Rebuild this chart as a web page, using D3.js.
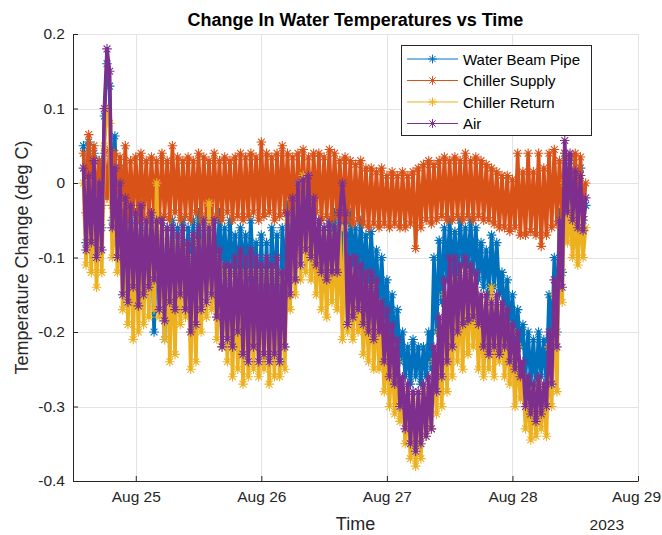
<!DOCTYPE html>
<html>
<head>
<meta charset="utf-8">
<script src="https://cdn.jsdelivr.net/npm/d3@7"></script>
<style>
    body { margin: 0; background: #fff; }
    svg text { font-family: "Liberation Sans", Arial, Helvetica, sans-serif; fill: #262626; }
</style>
</head>
<body>
<div id="chart"></div>
<script>
// sampled every 30 min starting Aug 24 2023 14:00
var startTime = new Date(2023, 7, 24, 14, 0);
var stepMinutes = 30;

var seriesNames = ['Water Beam Pipe', 'Chiller Supply', 'Chiller Return', 'Air'];

var waterBeamPipe = [
    0.05, -0.08, 0.055, -0.07, 0.04, -0.08, 0.03, -0.06, 0.09, 0.16,
    0.13, -0.05, 0.063, -0.08, 0.02, -0.10, -0.04, -0.12, -0.05, -0.11,
    -0.04, -0.12, -0.05, -0.11, -0.06, -0.12, -0.05, -0.20, -0.04, -0.13,
    -0.05, -0.21, -0.06, -0.14, -0.05, -0.15, -0.06, -0.13, -0.05, -0.15,
    -0.06, -0.14, -0.05, -0.15, -0.04, -0.13, -0.05, -0.12, -0.04, -0.12,
    -0.05, -0.13, -0.04, -0.12, -0.06, -0.13, -0.05, -0.12, -0.07, -0.13,
    -0.06, -0.12, -0.07, -0.13, -0.05, -0.14, -0.08, -0.18, -0.07, -0.20,
    -0.08, -0.19, -0.06, -0.15, -0.07, -0.24, -0.06, -0.14, -0.03, -0.10,
    -0.02, -0.10, -0.01, -0.09, 0.00, -0.08, -0.02, -0.10, -0.04, -0.11,
    -0.05, -0.11, -0.06, -0.12, -0.05, -0.11, -0.04, -0.12, -0.05, -0.10,
    -0.05, -0.12, -0.04, -0.11, -0.06, -0.12, -0.05, -0.13, -0.07, -0.14,
    -0.065, -0.15, -0.09, -0.17, -0.10, -0.18, -0.13, -0.20, -0.15, -0.22,
    -0.17, -0.24, -0.20, -0.26, -0.22, -0.27, -0.21, -0.26, -0.22, -0.27,
    -0.22, -0.26, -0.20, -0.25, -0.10, -0.20, -0.077, -0.16, -0.06, -0.13,
    -0.05, -0.12, -0.065, -0.13, -0.05, -0.11, -0.06, -0.12, -0.05, -0.12,
    -0.06, -0.13, -0.08, -0.14, -0.09, -0.15, -0.07, -0.14, -0.08, -0.15,
    -0.12, -0.18, -0.13, -0.20, -0.15, -0.21, -0.17, -0.22, -0.19, -0.26,
    -0.20, -0.27, -0.21, -0.28, -0.20, -0.26, -0.21, -0.27, -0.15, -0.22,
    -0.10, -0.20, -0.04, -0.12, 0.04, -0.05, 0.03, -0.04, 0.01, -0.05,
    0.02, -0.05, -0.03
];

var chillerSupply = [
    0.04, -0.04, 0.065, -0.03, 0.05, -0.04, 0.03, -0.03, 0.04, -0.02,
    0.045, -0.03, 0.04, -0.04, 0.035, -0.045, 0.05, -0.05, 0.03, -0.04,
    0.035, -0.05, 0.04, -0.045, 0.03, -0.05, 0.035, -0.04, 0.03, -0.05,
    0.04, -0.045, 0.03, -0.05, 0.05, -0.04, 0.035, -0.05, 0.03, -0.045,
    0.035, -0.05, 0.03, -0.04, 0.04, -0.05, 0.035, -0.045, 0.03, -0.05,
    0.04, -0.045, 0.03, -0.05, 0.035, -0.04, 0.03, -0.05, 0.035, -0.045,
    0.04, -0.05, 0.035, -0.045, 0.04, -0.04, 0.035, -0.05, 0.055, -0.045,
    0.04, -0.04, 0.035, -0.05, 0.04, -0.045, 0.05, -0.04, 0.04, -0.045,
    0.035, -0.05, 0.04, -0.04, 0.045, -0.045, 0.035, -0.05, 0.04, -0.04,
    0.04, -0.05, 0.035, -0.045, 0.045, -0.05, 0.04, -0.045, 0.03, -0.05,
    0.035, -0.05, 0.03, -0.055, 0.025, -0.05, 0.03, -0.055, 0.02, -0.06,
    0.02, -0.055, 0.015, -0.06, 0.02, -0.055, 0.01, -0.06, 0.015, -0.055,
    0.01, -0.06, 0.015, -0.06, 0.01, -0.055, 0.015, -0.088, 0.02, -0.06,
    0.025, -0.05, 0.03, -0.055, 0.025, -0.05, 0.03, -0.045, 0.035, -0.05,
    0.03, -0.05, 0.035, -0.045, 0.03, -0.05, 0.04, -0.045, 0.03, -0.05,
    0.035, -0.045, 0.03, -0.05, 0.025, -0.05, 0.02, -0.055, 0.015, -0.06,
    0.01, -0.06, 0.01, -0.065, 0.005, -0.06, 0.04, -0.07, 0.015, -0.07,
    0.04, -0.065, 0.015, -0.07, 0.04, -0.085, 0.02, -0.07, 0.04, -0.06,
    0.045, -0.055, 0.03, -0.05, 0.04, -0.05, 0.035, -0.045, 0.04, -0.05,
    0.035, -0.045, 0.0
];

var chillerReturn = [
    0.00, -0.11, -0.01, -0.12, 0.00, -0.14, -0.02, -0.12, 0.05, 0.10,
    0.08, -0.10, -0.02, -0.12, -0.03, -0.17, -0.06, -0.19, -0.07, -0.21,
    -0.06, -0.20, -0.07, -0.19, -0.05, -0.18, -0.06, -0.17, 0.00, -0.18,
    -0.07, -0.21, -0.08, -0.24, -0.09, -0.23, -0.08, -0.19, -0.09, -0.18,
    -0.10, -0.25, -0.11, -0.24, -0.08, -0.20, -0.05, -0.18, -0.027, -0.17,
    -0.10, -0.21, -0.11, -0.22, -0.12, -0.24, -0.13, -0.26, -0.12, -0.25,
    -0.13, -0.27, -0.12, -0.26, -0.14, -0.25, -0.12, -0.26, -0.13, -0.25,
    -0.12, -0.27, -0.13, -0.26, -0.12, -0.26, -0.13, -0.25, -0.05, -0.17,
    -0.04, -0.15, 0.00, -0.13, 0.01, -0.12, -0.02, -0.13, -0.07, -0.15,
    -0.07, -0.17, -0.08, -0.18, -0.07, -0.16, -0.08, -0.17, -0.06, -0.21,
    -0.06, -0.20, -0.12, -0.21, -0.13, -0.20, -0.14, -0.23, -0.15, -0.24,
    -0.14, -0.25, -0.16, -0.25, -0.20, -0.28, -0.21, -0.30, -0.22, -0.31,
    -0.24, -0.32, -0.28, -0.35, -0.29, -0.37, -0.30, -0.38, -0.29, -0.37,
    -0.28, -0.34, -0.28, -0.33, -0.24, -0.31, -0.20, -0.30, -0.15, -0.28,
    -0.15, -0.26, -0.13, -0.24, -0.14, -0.25, -0.12, -0.23, -0.13, -0.22,
    -0.15, -0.25, -0.17, -0.26, -0.16, -0.25, -0.14, -0.26, -0.17, -0.24,
    -0.17, -0.26, -0.19, -0.27, -0.20, -0.30, -0.22, -0.29, -0.26, -0.33,
    -0.28, -0.345, -0.28, -0.34, -0.27, -0.33, -0.28, -0.34, -0.22, -0.30,
    -0.15, -0.28, -0.05, -0.16, 0.00, -0.08, -0.03, -0.10, -0.04, -0.11,
    -0.03, -0.10, -0.06
];

var air = [
    0.02, -0.09, 0.01, -0.08, 0.03, -0.10, 0.00, -0.09, 0.10, 0.18,
    0.15, -0.06, 0.02, -0.10, 0.00, -0.15, -0.02, -0.16, -0.03, -0.14,
    -0.04, -0.165, -0.03, -0.15, -0.05, -0.14, -0.04, -0.13, -0.05, -0.17,
    -0.05, -0.185, -0.06, -0.16, -0.06, -0.17, -0.07, -0.15, -0.06, -0.17,
    -0.08, -0.20, -0.07, -0.19, -0.06, -0.17, -0.05, -0.16, -0.06, -0.15,
    -0.05, -0.18, -0.09, -0.22, -0.11, -0.21, -0.11, -0.22, -0.10, -0.20,
    -0.09, -0.23, -0.10, -0.24, -0.09, -0.22, -0.10, -0.24, -0.11, -0.23,
    -0.10, -0.24, -0.11, -0.23, -0.10, -0.24, -0.12, -0.22, -0.04, -0.15,
    -0.02, -0.13, 0.00, -0.11, 0.005, -0.09, 0.01, -0.10, -0.02, -0.11,
    -0.05, -0.12, -0.06, -0.13, -0.055, -0.12, -0.06, -0.12, -0.04, 0.00,
    -0.04, -0.19, -0.10, -0.18, -0.10, -0.17, -0.11, -0.19, -0.12, -0.20,
    -0.12, -0.21, -0.13, -0.20, -0.16, -0.24, -0.17, -0.26, -0.19, -0.27,
    -0.21, -0.30, -0.26, -0.33, -0.27, -0.35, -0.28, -0.36, -0.28, -0.35,
    -0.27, -0.34, -0.26, -0.33, -0.22, -0.28, -0.18, -0.26, -0.13, -0.24,
    -0.10, -0.22, -0.10, -0.20, -0.11, -0.19, -0.10, -0.185, -0.11, -0.18,
    -0.12, -0.19, -0.15, -0.22, -0.15, -0.23, -0.16, -0.22, -0.15, -0.23,
    -0.16, -0.22, -0.17, -0.24, -0.19, -0.25, -0.20, -0.26, -0.24, -0.30,
    -0.26, -0.31, -0.27, -0.32, -0.26, -0.31, -0.27, -0.30, -0.20, -0.27,
    -0.13, -0.22, -0.05, -0.14, 0.057, -0.04, 0.04, -0.05, 0.016, -0.06,
    0.01, -0.064, -0.02
];

var yTicks = [-0.4, -0.3, -0.2, -0.1, 0, 0.1, 0.2];
var xTickDays = [25, 26, 27, 28, 29];

(function () {

    var colors = ['#0072BD', '#D95319', '#EDB120', '#7E2F8E'];
    var allSeries = [waterBeamPipe, chillerSupply, chillerReturn, air];

    var width = 662;
    var height = 535;
    var plot = {left: 73, right: 638, top: 34, bottom: 481};

    var svg = d3.select('#chart').append('svg')
        .attr('width', width)
        .attr('height', height);

    var x = d3.scaleTime()
        .domain([new Date(2023, 7, 24, 12, 0), new Date(2023, 7, 29, 0, 0)])
        .range([plot.left, plot.right]);

    var y = d3.scaleLinear()
        .domain([-0.4, 0.2])
        .range([plot.bottom, plot.top]);

    var xTicks = xTickDays.map(function (d) {
        return new Date(2023, 7, d);
    });

    /**
     * grid lines
     */
    var grid = svg.append('g').attr('class', 'grid')
        .attr('stroke', '#e3e3e3')
        .attr('stroke-width', 1)
        .attr('shape-rendering', 'crispEdges');

    grid.selectAll('.gx').data(xTicks).enter().append('line')
        .attr('x1', function (d) { return Math.round(x(d)) + 0.5; })
        .attr('x2', function (d) { return Math.round(x(d)) + 0.5; })
        .attr('y1', plot.top)
        .attr('y2', plot.bottom);

    grid.selectAll('.gy').data(yTicks).enter().append('line')
        .attr('x1', plot.left)
        .attr('x2', plot.right)
        .attr('y1', function (d) { return Math.round(y(d)) + 0.5; })
        .attr('y2', function (d) { return Math.round(y(d)) + 0.5; });

    /**
     * asterisk marker like matlab '*'
     */
    function asterisk(r) {
        var d = r * 0.7071;
        return 'M' + (-r) + ',0L' + r + ',0' +
            'M0,' + (-r) + 'L0,' + r +
            'M' + (-d) + ',' + (-d) + 'L' + d + ',' + d +
            'M' + (-d) + ',' + d + 'L' + d + ',' + (-d);
    }

    function timeAt(i) {
        return new Date(startTime.getTime() + i * stepMinutes * 60000);
    }

    var line = d3.line()
        .x(function (d, i) { return x(timeAt(i)); })
        .y(function (d) { return y(d); });

    var markerPath = asterisk(4.8);

    allSeries.forEach(function (values, k) {
        var g = svg.append('g').attr('class', 'series');

        // the source is sampled far more densely, a heavier stroke fills the band
        g.append('path')
            .attr('d', line(values))
            .attr('fill', 'none')
            .attr('stroke', colors[k])
            .attr('stroke-width', 3.6)
            .attr('stroke-linejoin', 'round');

        g.selectAll('.marker')
            .data(values)
            .enter().append('path')
            .attr('class', 'marker')
            .attr('d', markerPath)
            .attr('transform', function (d, i) {
                return 'translate(' + x(timeAt(i)) + ',' + y(d) + ')';
            })
            .attr('fill', 'none')
            .attr('stroke', colors[k])
            .attr('stroke-width', 1.1);
    });

    /**
     * axes
     */
    var xAxis = svg.append('g')
        .attr('transform', 'translate(0,' + plot.bottom + ')')
        .call(d3.axisBottom(x)
            .tickValues(xTicks)
            .tickFormat(d3.timeFormat('%b %d'))
            .tickSizeInner(-5)
            .tickSizeOuter(0)
            .tickPadding(10));

    var yAxis = svg.append('g')
        .attr('transform', 'translate(' + plot.left + ',0)')
        .call(d3.axisLeft(y)
            .tickValues(yTicks)
            .tickFormat(function (d) { return d === 0 ? '0' : d.toFixed(1); })
            .tickSizeInner(-5)
            .tickSizeOuter(0)
            .tickPadding(8));

    [xAxis, yAxis].forEach(function (ax) {
        ax.select('.domain').attr('stroke', '#262626');
        ax.selectAll('.tick line').attr('stroke', '#262626');
        ax.selectAll('.tick text')
            .style('font-size', '15.5px')
            .attr('fill', '#262626');
    });

    // keep the last date label inside the window
    xAxis.selectAll('.tick:last-of-type text').attr('dx', -2);

    /**
     * titles and labels
     */
    svg.append('text')
        .attr('x', (plot.left + plot.right) / 2)
        .attr('y', 26)
        .attr('text-anchor', 'middle')
        .style('font-size', '18px')
        .style('font-weight', 'bold')
        .style('fill', '#000')
        .text('Change In Water Temperatures vs Time');

    svg.append('text')
        .attr('x', (plot.left + plot.right) / 2)
        .attr('y', 530)
        .attr('text-anchor', 'middle')
        .style('font-size', '18px')
        .text('Time');

    svg.append('text')
        .attr('x', 624)
        .attr('y', 530)
        .attr('text-anchor', 'end')
        .style('font-size', '15.5px')
        .text('2023');

    svg.append('text')
        .attr('transform', 'translate(28,' + ((plot.top + plot.bottom) / 2) + ') rotate(-90)')
        .attr('text-anchor', 'middle')
        .style('font-size', '18px')
        .text('Temperature Change (deg C)');

    /**
     * legend
     */
    var legend = svg.append('g').attr('transform', 'translate(401,45)');

    legend.append('rect')
        .attr('x', 0.5)
        .attr('y', 0.5)
        .attr('width', 190)
        .attr('height', 90)
        .attr('fill', '#fff')
        .attr('stroke', '#262626')
        .attr('stroke-width', 1);

    seriesNames.forEach(function (name, k) {
        var row = legend.append('g')
            .attr('transform', 'translate(0,' + (14 + k * 21.5) + ')');
        row.append('line')
            .attr('x1', 6).attr('x2', 57)
            .attr('y1', 0).attr('y2', 0)
            .attr('stroke', colors[k])
            .attr('stroke-width', 1);
        row.append('path')
            .attr('d', asterisk(4.4))
            .attr('transform', 'translate(31.5,0)')
            .attr('fill', 'none')
            .attr('stroke', colors[k]);
        row.append('text')
            .attr('x', 62)
            .attr('y', 5.5)
            .style('font-size', '15px')
            .style('fill', '#000')
            .text(name);
    });
})();
</script>
</body>
</html>
